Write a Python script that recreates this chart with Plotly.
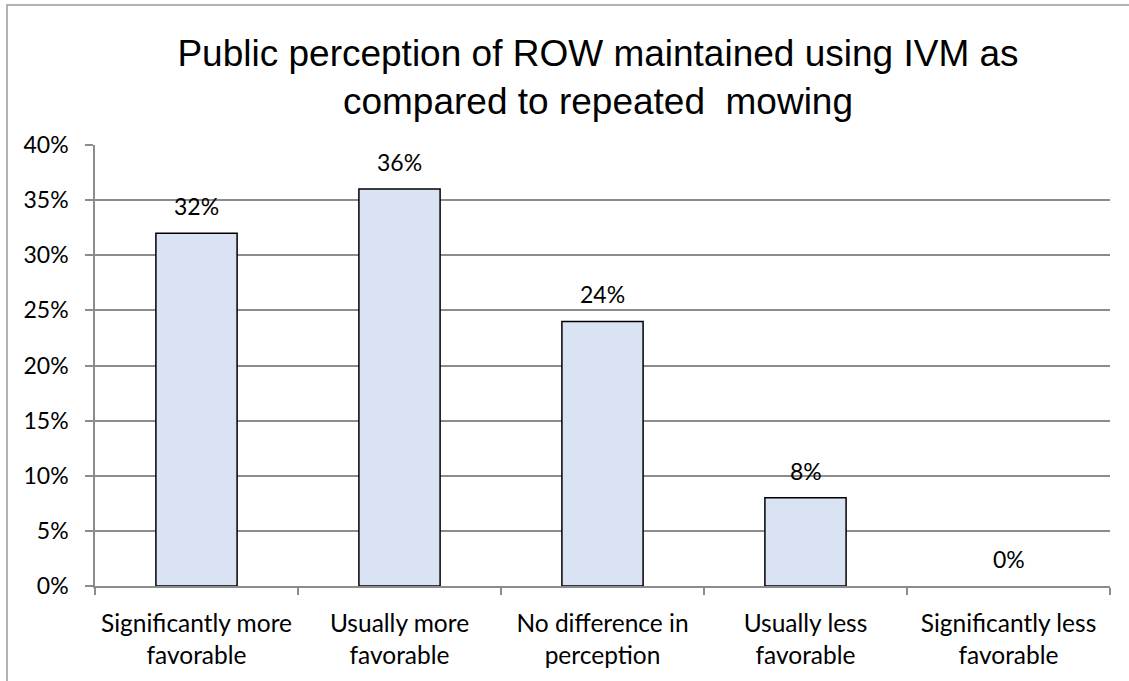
import plotly.graph_objects as go

categories = [
    "Significantly more<br>favorable",
    "Usually more<br>favorable",
    "No difference in<br>perception",
    "Usually less<br>favorable",
    "Significantly less<br>favorable",
]
values = [0.32, 0.36, 0.24, 0.08, 0.0]
value_labels = ["32%", "36%", "24%", "8%", "0%"]

title_text = "Public perception of ROW maintained using IVM as<br>compared to repeated  mowing"

W, H = 1129, 681
L, R, T, B = 95, 19, 145, 95

fig = go.Figure()
fig.add_trace(go.Bar(
    x=categories,
    y=values,
    marker=dict(
        color="#DAE3F3",
        line=dict(color="#000000", width=[1.5 if v > 0 else 0 for v in values]),
    ),
    hoverinfo="skip",
))

for c, v, lab in zip(categories, values, value_labels):
    fig.add_annotation(
        x=c, y=v, xref="x", yref="y", text=lab, showarrow=False,
        yanchor="bottom", yshift=11,
        font=dict(family="Lato", size=23, color="#000000"),
    )

# outer chart frame (only top/left visible in reference)
fig.add_shape(
    type="rect", xref="paper", yref="paper",
    x0=(7 - L) / (W - L - R), x1=1.2,
    y0=-0.5, y1=(H - B - 5) / (H - T - B),
    line=dict(color="#9a9a9a", width=1.5), fillcolor="rgba(0,0,0,0)", layer="below",
)

fig.update_layout(
    width=W, height=H,
    margin=dict(l=L, r=R, t=T, b=B, pad=0),
    paper_bgcolor="#ffffff",
    plot_bgcolor="#ffffff",
    bargap=0.6,
    showlegend=False,
    title=dict(
        text=title_text,
        x=598 / W, xanchor="center", xref="container",
        y=1 - 66 / H, yanchor="top", yref="container",
        font=dict(family="Liberation Sans, Arial", size=37, color="#000000"),
    ),
    font=dict(family="Lato", size=23, color="#000000"),
)

fig.update_xaxes(
    showline=True, linecolor="#8c8c8c", linewidth=1.5,
    ticks="outside", tickson="boundaries", ticklen=7, tickcolor="#8c8c8c", tickwidth=1.5,
    showgrid=False,
    tickfont=dict(family="Lato", size=24.5, color="#000000"),
    ticklabelstandoff=15,
)
fig.update_yaxes(
    range=[0, 0.4], dtick=0.05, tickformat=".0%",
    showline=True, linecolor="#8c8c8c", linewidth=1.5,
    ticks="outside", ticklen=8, tickcolor="#8c8c8c", tickwidth=1.5,
    showgrid=True, gridcolor="#8c8c8c", gridwidth=1.5,
    zeroline=False,
    tickfont=dict(family="Lato", size=23, color="#000000"),
    ticklabelstandoff=12,
)

fig.write_html(
    "out.html",
    config={"displayModeBar": False},
    post_script="document.body.style.margin='0';",
)
